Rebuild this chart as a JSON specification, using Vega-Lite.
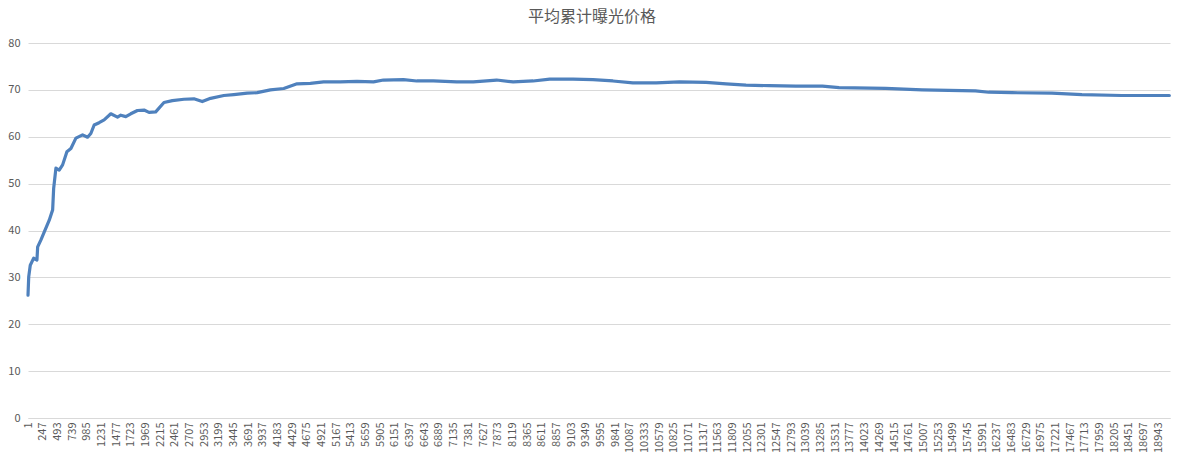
{
  "$schema": "https://vega.github.io/schema/vega-lite/v6.json",
  "width": 1181,
  "height": 457,
  "autosize": {"type": "fit", "contains": "padding"},
  "padding": {"left": 7, "right": 10, "top": 9, "bottom": 4},
  "background": "white",
  "config": {
    "view": {"stroke": null},
    "font": "Noto Sans CJK SC",
    "axis": {"labelColor": "#595959", "labelFontSize": 11, "labelFont": "Noto Sans CJK SC"}
  },
  "title": {
    "text": "平均累计曝光价格",
    "fontSize": 16,
    "fontWeight": "normal",
    "color": "#595959",
    "font": "Noto Sans CJK SC",
    "offset": 12,
    "dx": -7
  },
  "data": {
    "values": [
      {"i": 1, "v": 26.2},
      {"i": 13, "v": 30.1},
      {"i": 39, "v": 32.6},
      {"i": 96, "v": 34.1},
      {"i": 151, "v": 33.7},
      {"i": 163, "v": 36.5},
      {"i": 218, "v": 38.0},
      {"i": 274, "v": 39.7},
      {"i": 357, "v": 42.2},
      {"i": 414, "v": 44.4},
      {"i": 431, "v": 49.0},
      {"i": 469, "v": 53.3},
      {"i": 524, "v": 52.9},
      {"i": 581, "v": 54.0},
      {"i": 653, "v": 56.8},
      {"i": 720, "v": 57.5},
      {"i": 804, "v": 59.7},
      {"i": 916, "v": 60.4},
      {"i": 999, "v": 59.9},
      {"i": 1054, "v": 60.7},
      {"i": 1110, "v": 62.5},
      {"i": 1193, "v": 63.0},
      {"i": 1277, "v": 63.6},
      {"i": 1389, "v": 64.9},
      {"i": 1501, "v": 64.2},
      {"i": 1556, "v": 64.6},
      {"i": 1640, "v": 64.3},
      {"i": 1723, "v": 64.9},
      {"i": 1835, "v": 65.6},
      {"i": 1946, "v": 65.7},
      {"i": 2029, "v": 65.2},
      {"i": 2141, "v": 65.3},
      {"i": 2280, "v": 67.3},
      {"i": 2420, "v": 67.7},
      {"i": 2614, "v": 68.0},
      {"i": 2782, "v": 68.1},
      {"i": 2922, "v": 67.5},
      {"i": 3061, "v": 68.2},
      {"i": 3283, "v": 68.8},
      {"i": 3450, "v": 69.0},
      {"i": 3675, "v": 69.3},
      {"i": 3842, "v": 69.4},
      {"i": 4064, "v": 70.0},
      {"i": 4287, "v": 70.3},
      {"i": 4510, "v": 71.3},
      {"i": 4733, "v": 71.4},
      {"i": 4955, "v": 71.7},
      {"i": 5234, "v": 71.7},
      {"i": 5514, "v": 71.8},
      {"i": 5791, "v": 71.7},
      {"i": 5958, "v": 72.1},
      {"i": 6293, "v": 72.2},
      {"i": 6517, "v": 71.9},
      {"i": 6794, "v": 71.9},
      {"i": 7186, "v": 71.7},
      {"i": 7463, "v": 71.7},
      {"i": 7854, "v": 72.1},
      {"i": 8132, "v": 71.7},
      {"i": 8466, "v": 71.9},
      {"i": 8745, "v": 72.3},
      {"i": 9135, "v": 72.3},
      {"i": 9469, "v": 72.2},
      {"i": 9804, "v": 71.9},
      {"i": 10138, "v": 71.5},
      {"i": 10529, "v": 71.5},
      {"i": 10919, "v": 71.7},
      {"i": 11365, "v": 71.6},
      {"i": 11700, "v": 71.3},
      {"i": 12034, "v": 71.0},
      {"i": 12424, "v": 70.9},
      {"i": 12870, "v": 70.8},
      {"i": 13315, "v": 70.8},
      {"i": 13594, "v": 70.5},
      {"i": 14375, "v": 70.3},
      {"i": 14987, "v": 70.0},
      {"i": 15880, "v": 69.8},
      {"i": 16102, "v": 69.5},
      {"i": 16492, "v": 69.4},
      {"i": 17161, "v": 69.3},
      {"i": 17663, "v": 69.0},
      {"i": 18332, "v": 68.8},
      {"i": 19129, "v": 68.8}
    ]
  },
  "mark": {"type": "line", "color": "#4F81BD", "strokeWidth": 3.2, "strokeJoin": "round", "strokeCap": "round"},
  "encoding": {
    "x": {
      "field": "i",
      "type": "quantitative",
      "scale": {"domain": [1, 19140], "nice": false, "zero": false},
      "axis": {
        "title": null,
        "grid": false,
        "ticks": false,
        "domainColor": "#d9d9d9",
        "labelAngle": -90,
        "labelAlign": "right",
        "labelBaseline": "middle",
        "labelPadding": 4,
        "labelOverlap": false,
        "labelFlush": false,
        "format": "d",
        "values": [1,247,493,739,985,1231,1477,1723,1969,2215,2461,2707,2953,3199,3445,3691,3937,4183,4429,4675,4921,5167,5413,5659,5905,6151,6397,6643,6889,7135,7381,7627,7873,8119,8365,8611,8857,9103,9349,9595,9841,10087,10333,10579,10825,11071,11317,11563,11809,12055,12301,12547,12793,13039,13285,13531,13777,14023,14269,14515,14761,15007,15253,15499,15745,15991,16237,16483,16729,16975,17221,17467,17713,17959,18205,18451,18697,18943]
      }
    },
    "y": {
      "field": "v",
      "type": "quantitative",
      "scale": {"domain": [0, 80], "nice": false},
      "axis": {
        "title": null,
        "values": [0, 10, 20, 30, 40, 50, 60, 70, 80],
        "grid": true,
        "gridColor": "#d9d9d9",
        "domain": false,
        "ticks": false,
        "labelPadding": 8
      }
    }
  }
}
